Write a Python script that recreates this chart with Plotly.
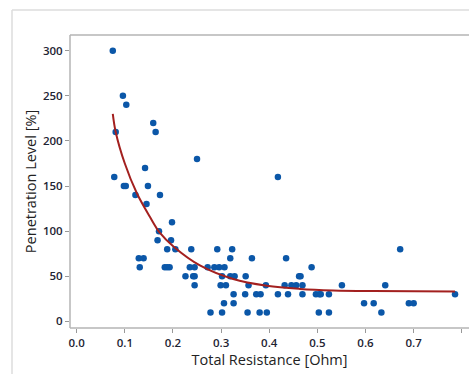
import plotly.graph_objects as go

# Scatter data: Total Resistance [Ohm] vs Penetration Level [%]
resistance = [0.075, 0.096, 0.103, 0.081, 0.078, 0.098, 0.102, 0.122, 0.142, 0.148,
              0.145, 0.159, 0.164, 0.173, 0.171, 0.168, 0.198, 0.196, 0.188, 0.205,
              0.129, 0.139, 0.131, 0.183, 0.188, 0.193, 0.250, 0.238, 0.226, 0.235,
              0.245, 0.242, 0.245, 0.245, 0.272, 0.278, 0.286, 0.296, 0.307, 0.292,
              0.302, 0.299, 0.310, 0.306, 0.302, 0.323, 0.319, 0.319, 0.328, 0.326,
              0.326, 0.351, 0.350, 0.355, 0.357, 0.364, 0.373, 0.382, 0.380, 0.393,
              0.395, 0.418, 0.418, 0.435, 0.432, 0.439, 0.446, 0.456, 0.462, 0.465,
              0.469, 0.469, 0.488, 0.497, 0.504, 0.507, 0.503, 0.524, 0.524, 0.551,
              0.597, 0.617, 0.633, 0.641, 0.672, 0.690, 0.700, 0.786]
penetration = [300, 250, 240, 210, 160, 150, 150, 140, 170, 150,
               130, 220, 210, 140, 100, 90, 110, 90, 80, 80,
               70, 70, 60, 60, 60, 60, 180, 80, 50, 60,
               60, 50, 50, 40, 60, 10, 60, 60, 60, 80,
               50, 40, 40, 20, 10, 80, 70, 50, 50, 30,
               20, 50, 30, 10, 40, 70, 30, 30, 10, 40,
               10, 160, 30, 70, 40, 30, 40, 40, 50, 50,
               40, 30, 60, 30, 30, 30, 10, 30, 10, 40,
               20, 20, 10, 40, 80, 20, 20, 30]

# Fitted curve
fit_x = [0.075, 0.081, 0.100, 0.125, 0.152, 0.173, 0.201, 0.256, 0.325, 0.395,
         0.464, 0.533, 0.616, 0.786]
fit_y = [230, 210, 175, 142, 116, 98, 83, 62, 47, 39.5,
         36, 34.3, 33.6, 33.2]

x_ticks = [0.0, 0.1, 0.2, 0.3, 0.4, 0.5, 0.6, 0.7, 0.8]
y_ticks = [0, 50, 100, 150, 200, 250, 300]

font_family = "Open Sans, Noto Sans, DejaVu Sans, sans-serif"

fig = go.Figure()
fig.add_trace(go.Scatter(
    x=resistance, y=penetration, mode="markers",
    marker=dict(color="#0b57a8", size=6.5, line=dict(width=0)),
    showlegend=False, hoverinfo="x+y"))
fig.add_trace(go.Scatter(
    x=fit_x, y=fit_y, mode="lines", line=dict(color="#a3201f", width=2, shape="spline"),
    showlegend=False))

axis_common = dict(
    showgrid=False, zeroline=False, showline=False,
    ticks="outside", ticklen=4, tickwidth=1, tickcolor="#999999",
    tickfont=dict(family=font_family, size=11.5, color="#1e2433", weight=600),
)

fig.update_layout(
    width=469, height=374,
    margin=dict(l=70, r=0, t=35, b=46),
    paper_bgcolor="white", plot_bgcolor="white",
    xaxis=dict(range=[-0.0139, 0.815], tickvals=x_ticks,
               ticktext=[f"{v:.1f}" for v in x_ticks],
               title=dict(text="Total Resistance [Ohm]", standoff=2,
                          font=dict(family=font_family, size=14.5, color="#222222")),
               **axis_common),
    yaxis=dict(range=[-7.3, 317.4], tickvals=y_ticks,
               title=dict(text="Penetration Level [%]", standoff=2,
                          font=dict(family=font_family, size=14.5, color="#222222")),
               **axis_common),
    shapes=[
        # outer frame (left and top)
        dict(type="line", xref="paper", yref="paper", x0=-58/399, x1=-58/399,
             y0=1 + 25/293, y1=-50/293, line=dict(color="#dddddd", width=1.5)),
        dict(type="line", xref="paper", yref="paper", x0=-58/399, x1=1.05,
             y0=1 + 25/293, y1=1 + 25/293, line=dict(color="#dddddd", width=1.5)),
        # plot frame (left, top, bottom)
        dict(type="line", xref="paper", yref="paper", x0=0, x1=0, y0=0, y1=1,
             line=dict(color="#b5b5b5", width=1.5)),
        dict(type="line", xref="paper", yref="paper", x0=0, x1=1.05, y0=1, y1=1,
             line=dict(color="#b5b5b5", width=1.5)),
        dict(type="line", xref="paper", yref="paper", x0=0, x1=1.05, y0=0, y1=0,
             line=dict(color="#b5b5b5", width=1.5)),
    ],
)

fig.write_html("out.html")
